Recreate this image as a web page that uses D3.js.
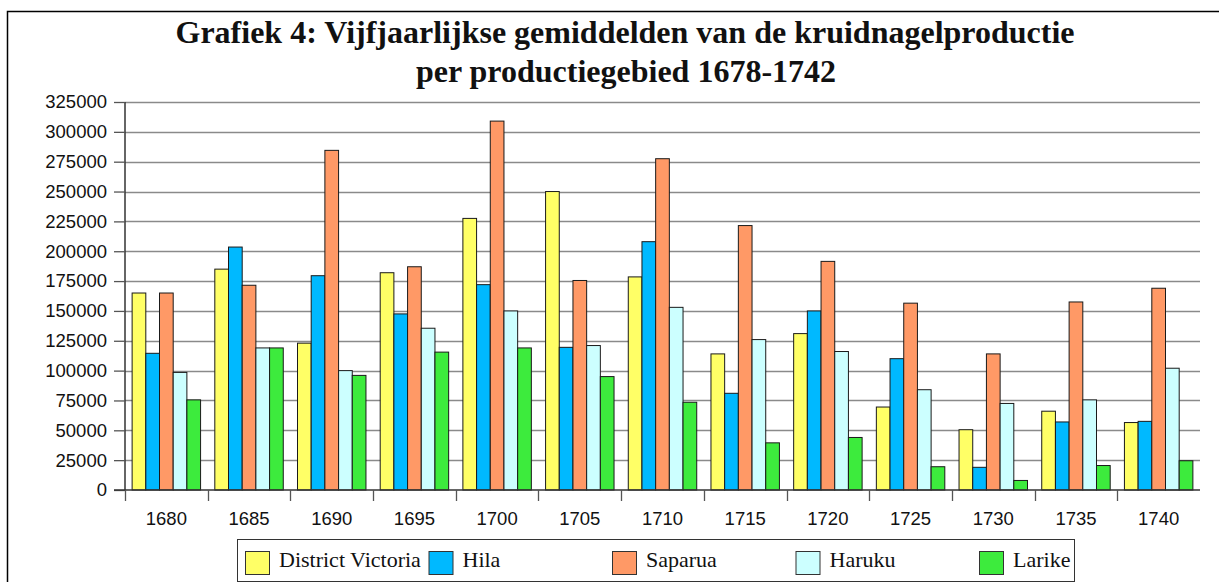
<!DOCTYPE html>
<html>
<head>
<meta charset="utf-8">
<script src="https://cdn.jsdelivr.net/npm/d3@7"></script>
<style>
  body { margin: 0; background: #fff; }
  svg { display: block; }
</style>
</head>
<body>
<div id="chart"></div>
<script>
// data
const years = ["1680","1685","1690","1695","1700","1705","1710","1715","1720","1725","1730","1735","1740"];
const series = ["District Victoria","Hila","Saparua","Haruku","Larike"];
const districtVictoria = [165000,185000,123000,182000,227500,250000,178500,114000,131000,69500,50500,66000,56500];
const hila            = [114500,203500,179500,147500,172000,119500,208000,81000,150000,110000,19000,57000,57500];
const saparua         = [165000,171500,284500,187000,309000,175500,277500,221500,191500,156500,114000,157500,169000];
const haruku          = [98500,119000,100000,135500,150000,121000,153000,126000,116000,84000,72500,75500,102000];
const larike          = [75500,119000,96000,115500,119000,95000,73500,39500,44000,19500,8000,20500,24500];
const yTicks = [0,25000,50000,75000,100000,125000,150000,175000,200000,225000,250000,275000,300000,325000];
const colors = ["#ffff66","#00b9ff","#ff9966","#ccffff","#3deb3d"];

const values = [districtVictoria, hila, saparua, haruku, larike];
const data = years.map(function(y, i) {
  return { year: y, vals: series.map(function(s, j) { return { key: s, v: values[j][i] }; }) };
});

const W = 1219, H = 582;
const plot = {left: 125, right: 1200, top: 102, bottom: 490};

const svg = d3.select("#chart").append("svg")
    .attr("width", W)
    .attr("height", H);

// outer frame
svg.append("rect")
    .attr("x", 7.5).attr("y", 11.5)
    .attr("width", W).attr("height", H)
    .attr("fill", "none")
    .attr("stroke", "#000")
    .attr("stroke-width", 1.5);

// title
const title = svg.append("text")
    .attr("text-anchor", "middle")
    .attr("font-family", "'Liberation Serif', 'DejaVu Serif', serif")
    .attr("font-weight", "bold")
    .attr("font-size", 32)
    .attr("fill", "#111");
title.append("tspan").attr("x", 625).attr("y", 43).text("Grafiek 4: Vijfjaarlijkse gemiddelden van de kruidnagelproductie");
title.append("tspan").attr("x", 626).attr("y", 82).text("per productiegebied 1678-1742");

const x0 = d3.scaleBand().domain(years).range([plot.left, plot.right]).padding(0);
const x1 = d3.scaleBand().domain(series).range([0, x0.bandwidth()]).paddingInner(0).paddingOuter(0.52);
const y = d3.scaleLinear().domain([0, 325000]).range([plot.bottom, plot.top]);
const color = d3.scaleOrdinal().domain(series).range(colors);

// gridlines
svg.append("g")
  .selectAll("line")
  .data(yTicks.slice(1))
  .enter().append("line")
    .attr("x1", plot.left).attr("x2", plot.right)
    .attr("y1", function(d) { return Math.round(y(d)) + 0.5; })
    .attr("y2", function(d) { return Math.round(y(d)) + 0.5; })
    .attr("stroke", "#8a8a8a")
    .attr("stroke-width", 1.4);

// bars
const groups = svg.append("g")
  .selectAll("g")
  .data(data)
  .enter().append("g")
    .attr("transform", function(d) { return "translate(" + x0(d.year) + ",0)"; });

groups.selectAll("rect")
  .data(function(d) { return d.vals; })
  .enter().append("rect")
    .attr("x", function(d) { return x1(d.key); })
    .attr("y", function(d) { return y(d.v); })
    .attr("width", x1.bandwidth())
    .attr("height", function(d) { return y(0) - y(d.v); })
    .attr("fill", function(d) { return color(d.key); })
    .attr("stroke", "#1a1a1a")
    .attr("stroke-width", 1);

// y axis
const yAxis = svg.append("g")
    .attr("transform", "translate(" + plot.left + ",0)")
    .call(d3.axisLeft(y).tickValues(yTicks).tickSize(11).tickPadding(7).tickFormat(d3.format("d")));
yAxis.select(".domain").attr("stroke", "#333").attr("stroke-width", 1.5).attr("d", "M0," + plot.top + "V" + plot.bottom);
yAxis.selectAll(".tick line").attr("stroke", "#555").attr("stroke-width", 1.3);
yAxis.selectAll("text")
    .attr("font-family", "'Liberation Sans', Arial, sans-serif")
    .attr("font-size", 18.5)
    .attr("fill", "#111");

// x axis
const xAxis = svg.append("g")
    .attr("transform", "translate(0," + plot.bottom + ")");
xAxis.append("line")
    .attr("x1", plot.left - 11).attr("x2", plot.right)
    .attr("y1", 0).attr("y2", 0)
    .attr("stroke", "#333").attr("stroke-width", 1.5);
xAxis.selectAll(".xt")
  .data(years)
  .enter().append("line")
    .attr("class", "xt")
    .attr("x1", function(d) { return Math.round(x0(d)) + 0.5; })
    .attr("x2", function(d) { return Math.round(x0(d)) + 0.5; })
    .attr("y1", 0).attr("y2", 11)
    .attr("stroke", "#555").attr("stroke-width", 1.3);
xAxis.selectAll(".xl")
  .data(years)
  .enter().append("text")
    .attr("class", "xl")
    .attr("x", function(d) { return x0(d) + x0.bandwidth() / 2; })
    .attr("y", 35)
    .attr("text-anchor", "middle")
    .attr("font-family", "'Liberation Sans', Arial, sans-serif")
    .attr("font-size", 18.5)
    .attr("fill", "#111")
    .text(function(d) { return d; });

// legend
const legend = svg.append("g");
legend.append("rect")
    .attr("x", 237.5).attr("y", 539.5)
    .attr("width", 837).attr("height", 42)
    .attr("fill", "#fff")
    .attr("stroke", "#333")
    .attr("stroke-width", 1);

const items = legend.selectAll(".item")
  .data(series)
  .enter().append("g")
    .attr("class", "item")
    .attr("transform", function(d, i) { return "translate(" + (245.5 + i * 183.5) + ",551.5)"; });
items.append("rect")
    .attr("width", 24).attr("height", 23)
    .attr("fill", function(d) { return color(d); })
    .attr("stroke", "#333")
    .attr("stroke-width", 1);
items.append("text")
    .attr("x", 33.5)
    .attr("y", 15)
    .attr("font-family", "'Liberation Serif', 'DejaVu Serif', serif")
    .attr("font-size", 22)
    .attr("fill", "#111")
    .text(function(d) { return d; });
</script>
</body>
</html>
